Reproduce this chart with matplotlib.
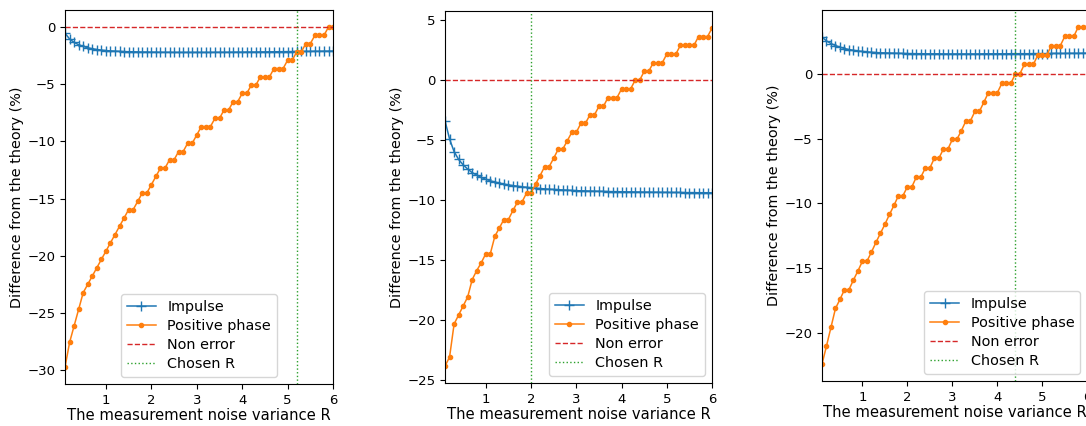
import numpy as np
import matplotlib
matplotlib.use('Agg')
from matplotlib import pyplot as plt

# R grid, 0.1 .. 6.0
R = np.round(np.arange(1, 61) * 0.1, 1)

# panel 1
impulse_1 = [-0.55, -1.05, -1.35, -1.55, -1.70, -1.82, -1.90, -1.97, -2.02, -2.06,
             -2.09, -2.11, -2.13, -2.15, -2.16, -2.17, -2.18, -2.19, -2.19, -2.20,
             -2.20, -2.21, -2.21, -2.21, -2.22, -2.22, -2.22, -2.22, -2.22, -2.22,
             -2.22, -2.22, -2.22, -2.21, -2.21, -2.21, -2.21, -2.20, -2.20, -2.20,
             -2.19, -2.19, -2.19, -2.18, -2.18, -2.17, -2.17, -2.16, -2.16, -2.15,
             -2.15, -2.14, -2.14, -2.13, -2.13, -2.12, -2.12, -2.11, -2.11, -2.10]
positive_1 = [-29.70, -27.55, -26.10, -24.65, -23.20, -22.48, -21.75, -21.03, -20.30, -19.58,
              -18.85, -18.13, -17.40, -16.68, -15.95, -15.95, -15.23, -14.50, -14.50, -13.78,
              -13.05, -12.33, -12.33, -11.60, -11.60, -10.88, -10.88, -10.15, -10.15, -9.43,
              -8.70, -8.70, -8.70, -7.98, -7.98, -7.25, -7.25, -6.53, -6.53, -5.80,
              -5.80, -5.08, -5.08, -4.35, -4.35, -4.35, -3.63, -3.63, -3.63, -2.90,
              -2.90, -2.18, -2.18, -1.45, -1.45, -0.73, -0.73, -0.73, 0.00, 0.00]
chosen_1 = 5.2

# panel 2
impulse_2 = [-3.40, -4.90, -5.95, -6.60, -7.05, -7.40, -7.70, -7.90, -8.10, -8.25,
             -8.38, -8.48, -8.57, -8.65, -8.72, -8.78, -8.83, -8.88, -8.92, -8.95,
             -8.99, -9.02, -9.05, -9.08, -9.10, -9.12, -9.14, -9.16, -9.18, -9.20,
             -9.21, -9.22, -9.23, -9.24, -9.25, -9.26, -9.27, -9.28, -9.28, -9.29,
             -9.30, -9.30, -9.31, -9.31, -9.32, -9.32, -9.33, -9.33, -9.34, -9.34,
             -9.35, -9.35, -9.35, -9.36, -9.36, -9.36, -9.37, -9.37, -9.37, -9.38]
positive_2 = [-23.80, -23.05, -20.30, -19.55, -18.80, -18.05, -16.60, -15.85, -15.20, -14.45,
              -14.45, -13.00, -12.30, -11.60, -11.60, -10.85, -10.15, -10.15, -9.40, -9.40,
              -8.65, -7.95, -7.20, -7.20, -6.50, -5.75, -5.75, -5.05, -4.35, -4.35,
              -3.60, -3.60, -2.90, -2.90, -2.18, -2.18, -1.45, -1.45, -1.45, -0.73,
              -0.73, -0.73, 0.00, 0.00, 0.73, 0.73, 1.45, 1.45, 1.45, 2.18,
              2.18, 2.18, 2.90, 2.90, 2.90, 2.90, 3.63, 3.63, 3.63, 4.35]
chosen_2 = 2.0

# panel 3
impulse_3 = [2.83, 2.55, 2.34, 2.19, 2.06, 1.96, 1.88, 1.82, 1.77, 1.73,
             1.70, 1.67, 1.65, 1.63, 1.62, 1.61, 1.60, 1.59, 1.58, 1.57,
             1.57, 1.56, 1.56, 1.55, 1.55, 1.55, 1.55, 1.54, 1.54, 1.54,
             1.54, 1.54, 1.54, 1.54, 1.54, 1.54, 1.55, 1.55, 1.55, 1.55,
             1.55, 1.55, 1.56, 1.56, 1.56, 1.56, 1.56, 1.57, 1.57, 1.57,
             1.57, 1.58, 1.58, 1.58, 1.58, 1.59, 1.59, 1.59, 1.60, 1.60]
positive_3 = [-22.40, -21.00, -19.55, -18.10, -17.40, -16.65, -16.65, -15.90, -15.20, -14.45,
              -14.45, -13.75, -13.00, -12.30, -11.60, -10.85, -10.15, -9.40, -9.40, -8.70,
              -8.70, -7.95, -7.95, -7.25, -7.25, -6.50, -6.50, -5.80, -5.80, -5.05,
              -5.05, -4.38, -3.63, -3.63, -2.90, -2.90, -2.18, -1.45, -1.45, -1.45,
              -0.73, -0.73, -0.73, 0.00, 0.00, 0.73, 0.73, 0.73, 1.45, 1.45,
              1.45, 2.18, 2.18, 2.18, 2.90, 2.90, 2.90, 3.63, 3.63, 3.63]
chosen_3 = 4.4

# 三张图的位置 (第三张右边被裁掉一点)
panels = [
    (impulse_1, positive_1, chosen_1, [0.0599, 0.0986, 0.2468, 0.8780], 'lower center'),
    (impulse_2, positive_2, chosen_2, [0.4098, 0.1010, 0.2459, 0.8732], 'lower right'),
    (impulse_3, positive_3, chosen_3, [0.7569, 0.1056, 0.2443, 0.8709], 'lower right'),
]

fig = plt.figure(figsize=(10.86, 4.26), dpi=100)

for imp, pos, chosen, rect, loc in panels:
    ax = fig.add_axes(rect)
    ax.plot(R, imp, marker='+', color='tab:blue', lw=1.1, ms=7, label='Impulse')
    ax.plot(R, pos, marker='.', color='tab:orange', lw=1.1, ms=6, label='Positive phase')
    ax.axhline(0, color='tab:red', ls='--', lw=1, label='Non error')
    ax.axvline(chosen, color='tab:green', ls=':', lw=1, label='Chosen R')
    ax.set_xlim(0.1, 6)
    ax.set_xlabel('The measurement noise variance R', fontsize=10.6, labelpad=1)
    ax.set_ylabel('Difference from the theory (%)', fontsize=10.4, labelpad=2)
    ax.tick_params(labelsize=9.5)
    ax.legend(loc=loc, fontsize=10.4, labelspacing=0.35)

fig.savefig('out.png', dpi=100)
